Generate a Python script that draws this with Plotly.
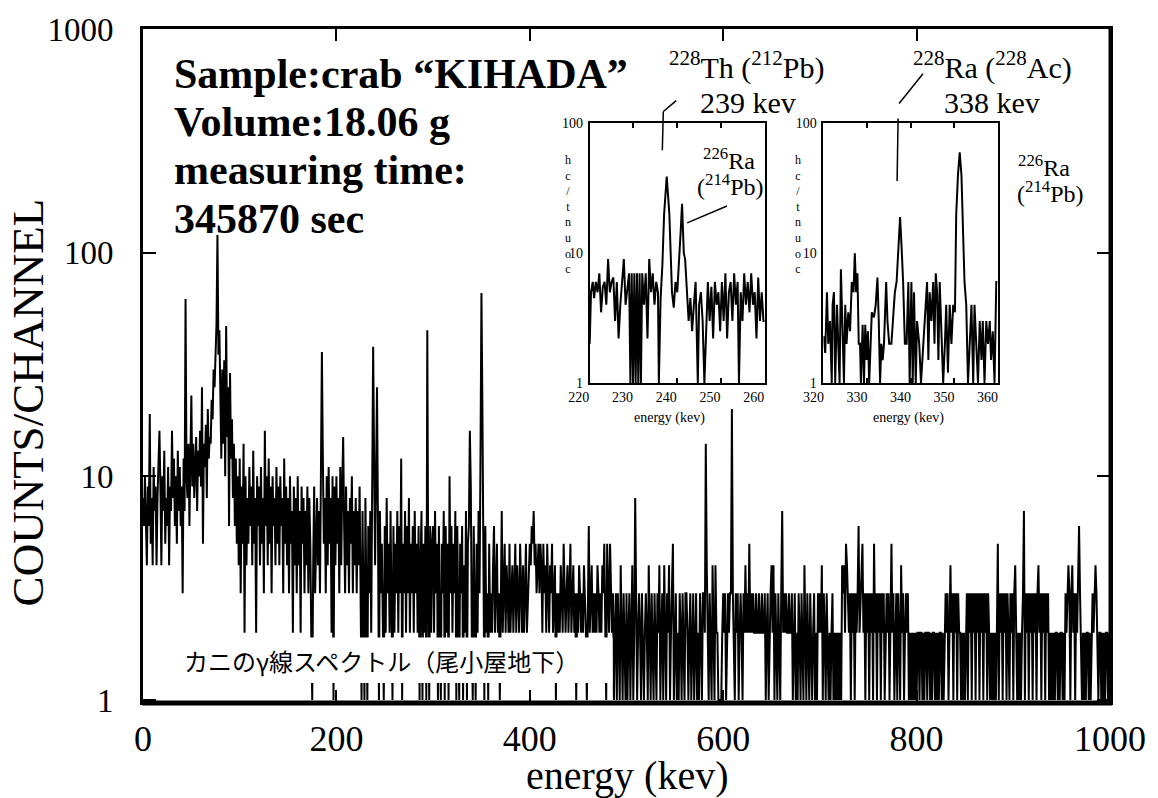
import plotly.graph_objects as go

# ---------------- data ----------------
# main spectrum: counts per 1-keV channel, 0..999 keV
main_counts = [
    8, 6, 10, 7, 4, 9, 6, 19, 5, 8, 4, 11, 7, 9, 4, 8, 12, 16, 9, 4, 10, 7, 13, 5, 8, 6, 11, 4, 9, 7, 16, 8, 12, 6, 10, 5, 13, 7, 11, 6, 9, 3, 12, 7, 62, 10, 8, 14, 6, 11,
    23, 9, 14, 8, 12, 15, 7, 13, 10, 16, 9, 25, 5, 14, 11, 17, 8, 20, 12, 15, 14, 22, 18, 30, 25, 40, 48, 120, 35, 45, 20, 12, 30, 14, 33, 10, 47, 15, 25, 6, 29, 12, 18, 8, 14, 6, 12, 5, 10, 4,
    12, 3, 9, 5, 14, 2, 10, 4, 8, 5, 11, 6, 9, 4, 13, 5, 8, 2, 10, 6, 9, 4, 11, 5, 8, 3, 16, 6, 10, 4, 12, 5, 9, 3, 10, 6, 8, 4, 11, 5, 9, 4, 10, 6, 8, 3, 12, 5, 9, 4,
    8, 3, 10, 5, 7, 2, 9, 4, 8, 3, 10, 4, 7, 2, 9, 5, 8, 3, 7, 4, 9, 3, 8, 5, 2, 1, 4, 9, 3, 6, 8, 4, 7, 3, 9, 36, 12, 5, 8, 3, 10, 4, 11, 5, 8, 2, 10, 1, 9, 4,
    10, 5, 8, 3, 11, 4, 9, 15, 6, 3, 9, 4, 7, 3, 8, 5, 10, 3, 7, 4, 8, 3, 7, 4, 9, 2, 1, 7, 3, 1, 8, 2, 1, 6, 3, 7, 2, 9, 38, 12, 4, 10, 25, 6, 1, 7, 3, 5, 2, 1,
    6, 2, 8, 3, 5, 2, 7, 3, 1, 6, 2, 5, 3, 7, 2, 6, 3, 12, 1, 5, 3, 7, 2, 6, 3, 8, 2, 5, 3, 6, 2, 7, 3, 5, 2, 6, 1, 4, 7, 1, 5, 2, 6, 1, 45, 3, 1, 6, 2, 5,
    6, 2, 7, 3, 5, 1, 6, 2, 1, 5, 3, 7, 1, 6, 2, 5, 1, 10, 3, 6, 2, 5, 3, 7, 1, 6, 2, 1, 5, 3, 6, 1, 4, 2, 7, 1, 5, 6, 16, 9, 2, 1, 6, 3, 1, 5, 2, 7, 3, 12,
    66, 20, 4, 1, 6, 2, 3, 1, 5, 2, 3, 2, 4, 6, 2, 3, 5, 2, 3, 1, 4, 7, 2, 3, 5, 2, 4, 3, 2, 5, 2, 3, 4, 2, 3, 5, 2, 4, 3, 2, 5, 3, 2, 4, 2, 3, 5, 2, 3, 4,
    5, 4, 6, 5, 7, 4, 5, 3, 4, 5, 3, 5, 4, 2, 5, 3, 4, 2, 5, 3, 2, 4, 3, 5, 2, 3, 4, 1, 3, 2, 3, 2, 4, 3, 2, 5, 3, 2, 3, 4, 2, 3, 5, 2, 3, 4, 2, 3, 1, 3,
    2, 4, 3, 2, 3, 2, 4, 3, 2, 1, 3, 6, 2, 3, 4, 2, 3, 2, 3, 2, 4, 3, 2, 3, 2, 4, 3, 5, 2, 1, 5, 3, 2, 5, 3, 2, 3, 1, 2, 3, 1, 3, 2, 1, 4, 2, 1, 3, 2, 1,
    3, 1, 2, 3, 1, 2, 4, 1, 2, 8, 3, 1, 2, 3, 2, 1, 3, 2, 1, 2, 3, 2, 1, 4, 2, 1, 3, 2, 1, 3, 2, 1, 3, 2, 4, 1, 2, 3, 1, 4, 2, 1, 3, 2, 4, 1, 2, 3, 5, 1,
    2, 3, 1, 2, 1, 3, 2, 1, 3, 2, 1, 3, 3, 2, 1, 2, 3, 1, 2, 3, 1, 2, 3, 1, 2, 1, 3, 2, 1, 3, 3, 2, 14, 4, 2, 1, 3, 2, 1, 4, 2, 1, 4, 2, 2, 1, 1, 1, 1, 2,
    3, 2, 3, 1, 2, 3, 2, 3, 3, 20, 3, 2, 1, 3, 2, 3, 1, 2, 3, 2, 1, 3, 2, 4, 2, 3, 2, 5, 2, 3, 2, 3, 2, 2, 3, 2, 2, 3, 2, 2, 3, 2, 2, 3, 1, 2, 3, 1, 2, 3,
    4, 2, 4, 1, 3, 2, 1, 3, 2, 1, 3, 7, 2, 3, 2, 3, 2, 2, 3, 2, 2, 3, 1, 2, 3, 1, 2, 1, 3, 2, 1, 3, 2, 1, 4, 2, 1, 3, 2, 1, 3, 2, 1, 2, 3, 1, 2, 1, 3, 2,
    3, 2, 4, 1, 3, 2, 1, 3, 2, 1, 2, 1, 2, 3, 1, 2, 1, 2, 1, 2, 1, 2, 1, 4, 3, 4, 2, 5, 4, 3, 2, 3, 1, 3, 2, 3, 1, 3, 2, 3, 6, 2, 3, 4, 5, 2, 3, 1, 3, 2,
    3, 1, 3, 2, 3, 1, 5, 2, 3, 1, 3, 2, 3, 1, 3, 2, 3, 1, 2, 3, 2, 3, 1, 3, 5, 2, 3, 1, 2, 3, 1, 3, 2, 1, 4, 2, 3, 1, 2, 3, 2, 3, 1, 2, 1, 2, 1, 2, 1, 2,
    1, 2, 2, 1, 2, 2, 1, 2, 1, 2, 2, 1, 2, 2, 1, 2, 1, 2, 2, 1, 2, 1, 2, 1, 2, 2, 1, 2, 1, 2, 3, 2, 3, 1, 3, 4, 2, 3, 1, 3, 2, 3, 1, 3, 2, 2, 1, 2, 1, 2,
    1, 2, 3, 1, 3, 2, 3, 1, 3, 2, 3, 1, 3, 2, 3, 1, 3, 2, 3, 1, 3, 2, 3, 1, 3, 2, 1, 2, 1, 2, 1, 2, 1, 2, 5, 1, 3, 2, 3, 1, 3, 2, 3, 1, 3, 2, 1, 3, 2, 3,
    1, 3, 4, 2, 1, 2, 1, 2, 1, 2, 3, 7, 1, 3, 2, 3, 1, 3, 2, 3, 1, 3, 2, 3, 1, 3, 4, 2, 3, 1, 3, 2, 3, 1, 3, 2, 3, 1, 2, 1, 2, 1, 2, 1, 2, 2, 1, 2, 1, 2,
    2, 1, 2, 1, 3, 2, 3, 4, 3, 1, 3, 4, 2, 3, 1, 3, 2, 3, 6, 3, 2, 1, 2, 1, 2, 1, 2, 2, 1, 2, 1, 2, 3, 2, 3, 4, 3, 2, 1, 2, 2, 1, 2, 1, 2, 1, 2, 2, 1, 2,
]
main_keV = list(range(len(main_counts)))

# inset 1: 220-260 keV
inset1_keV = [
    220.0, 220.3, 220.7, 221.0, 221.4, 221.8, 222.2, 222.6, 223.0,
    223.4, 223.8, 224.2, 224.6, 225.0, 225.4, 225.8,
    226.2, 226.6, 227.0, 227.4, 227.8, 228.2, 228.6, 229.0,
    229.3, 229.6, 229.9, 230.2, 230.5, 230.8, 231.1, 231.4, 231.7, 232.0,
    232.4, 232.8, 233.2, 233.6, 234.0, 234.4, 234.8, 235.2, 235.6, 235.8,
    236.2, 236.6, 237.0, 237.6, 238.2, 238.8, 239.2, 239.6, 240.0,
    240.4, 240.8, 241.1, 241.5, 241.8, 242.2, 242.6, 243.0, 243.4, 243.8,
    244.2, 244.7, 245.0, 245.4, 245.8, 246.2, 246.6, 247.0, 247.4, 247.8,
    248.2, 248.6, 249.0, 249.4, 249.8, 250.2, 250.6, 251.0, 251.4, 251.8,
    252.2, 252.6, 253.0, 253.4, 253.8, 254.1, 254.5, 254.9, 255.3, 255.7,
    256.1, 256.5, 256.9, 257.3, 257.7, 258.1, 258.5, 258.9, 259.3, 259.7, 260.0,
]
inset1_counts = [
    2, 5, 6, 4.5, 6, 5, 7, 3.5, 5.5,
    6, 4, 9, 5, 6, 6.5, 3,
    6, 2.2, 4, 6.5, 9, 4, 5.5, 7,
    1, 7, 1, 7, 1, 7, 1, 7, 1, 7,
    4, 7, 2.2, 9, 5, 7, 4, 6, 5, 1,
    4.5, 8, 20, 39, 20, 5, 3.8, 6, 5,
    8, 15, 24, 10, 9, 5, 3, 4.5, 2.5, 4,
    6, 1, 4, 5, 3, 1, 3, 6, 3, 5.5,
    2.2, 6, 4, 5, 2.5, 6, 3, 7, 2.2, 5,
    6, 3, 7, 4, 6, 1, 5, 3, 7, 4,
    6, 3.5, 7, 4, 5, 2.2, 6.5, 3, 5, 3, 3,
]

# inset 2: 320-360 keV
inset2_keV = [
    320.0, 320.4, 320.8, 321.1, 321.5, 321.9, 322.1, 322.4, 322.7, 323.1,
    323.4, 323.7, 324.0, 324.4, 324.7, 325.0, 325.3, 325.7, 326.1, 326.5,
    326.9, 327.2, 327.5, 327.8, 328.1, 328.4, 328.6, 329.0, 329.3, 329.6,
    329.9, 330.2, 330.5, 331.1, 331.6, 332.0, 332.4, 332.7, 333.0, 333.3,
    333.6, 333.9, 334.4, 334.7, 335.1, 335.6, 336.0, 336.4, 336.8, 337.3,
    337.6, 337.9, 338.3, 338.7, 339.1, 339.5, 339.8, 340.2, 340.5, 340.8,
    341.2, 341.5, 342.0, 342.4, 342.9, 343.5, 343.8, 344.1, 344.4, 344.8,
    345.2, 345.5, 345.8, 346.1, 346.4, 346.7, 347.1, 347.5, 347.9, 348.2,
    348.6, 349.0, 349.4, 349.8, 350.2, 350.5, 350.9, 351.3, 351.7, 352.1,
    352.4, 352.8, 353.2, 353.6, 354.0, 354.4, 354.7, 355.1, 355.5, 355.9,
    356.3, 356.6, 357.0, 357.4, 357.8, 358.2, 358.5, 358.9, 359.3, 359.7,
    360.0,
]
inset2_counts = [
    2.3, 1.7, 5, 2, 3, 1, 4, 5, 1, 4,
    2, 1, 7.5, 2, 1, 4, 2, 3.5, 2.5, 6,
    5, 10, 5, 7, 2, 2, 1, 2.8, 1, 2.8,
    1.5, 2.5, 1, 3.5, 3.2, 4, 6.5, 3, 1, 2,
    1.5, 2, 6, 3, 2, 2, 3.5, 5, 6, 14,
    19, 12, 6, 2, 2, 6, 1, 6, 1, 5,
    1, 3, 2, 1, 2, 4, 6, 1.5, 5, 3,
    6, 2, 7, 5, 1.5, 6, 2, 1, 2, 4,
    1.2, 4, 2, 4, 3.5, 20, 40, 60, 40, 12,
    6, 4, 1, 2, 4, 1, 4, 2, 1, 3,
    1.5, 3, 1, 3, 2, 3, 1.5, 2.5, 1, 6,
    6,
]

main_xticks = [0, 200, 400, 600, 800, 1000]
main_yticks = [1, 10, 100, 1000]
inset1_xticks = [220, 230, 240, 250, 260]
inset2_xticks = [320, 330, 340, 350, 360]
inset_yticks = [1, 10, 100]

# ---------------- layout helpers (pixel -> paper) ----------------
W, H = 1158, 798
L, R, T, B = 143, 1115, 25, 702
PW, PH = R - L, B - T


def px(x):
    return (x - L) / PW


def py(y):
    return (B - y) / PH


SERIF = "Liberation Serif, Times New Roman, serif"

fig = go.Figure()
fig.add_trace(go.Scatter(x=main_keV, y=main_counts, mode="lines",
                         line=dict(color="black", width=2),
                         xaxis="x", yaxis="y", hoverinfo="skip"))
fig.add_trace(go.Scatter(x=inset1_keV, y=inset1_counts, mode="lines",
                         line=dict(color="black", width=2),
                         xaxis="x2", yaxis="y2", hoverinfo="skip"))
fig.add_trace(go.Scatter(x=inset2_keV, y=inset2_counts, mode="lines",
                         line=dict(color="black", width=2),
                         xaxis="x3", yaxis="y3", hoverinfo="skip"))

axis_common = dict(showgrid=False, zeroline=False, showline=True, linecolor="black",
                   ticks="inside", tickcolor="black")

fig.update_layout(
    width=W, height=H, showlegend=False,
    margin=dict(l=L, r=W - R, t=T, b=H - B),
    paper_bgcolor="white", plot_bgcolor="white",
    font=dict(family=SERIF, color="black"),
    xaxis=dict(**axis_common, range=[0, 1000], tickvals=main_xticks,
               linewidth=3, mirror="ticks", ticklen=12, tickwidth=2,
               tickfont=dict(size=36, family=SERIF), ticklabelstandoff=3),
    yaxis=dict(**axis_common, type="log", range=[-2 / 225, 3.0],
               tickvals=main_yticks, ticktext=[str(v) for v in main_yticks],
               linewidth=3, mirror="ticks", ticklen=13, tickwidth=2,
               tickfont=dict(size=33, family=SERIF), ticklabelstandoff=20),
    xaxis2=dict(**axis_common, domain=[px(592), px(768)], anchor="y2",
                range=[220, 260], tickvals=inset1_xticks, linewidth=2,
                mirror="ticks", ticklen=5, tickwidth=1.5,
                tickfont=dict(size=14, family=SERIF), ticklabelshift=-11,
                ticklabelstandoff=0),
    yaxis2=dict(showgrid=False, zeroline=False, showline=True, linecolor="black",
                linewidth=2, mirror=True, ticks="", domain=[py(381), py(120)],
                anchor="x2", type="log", range=[0, 2], tickvals=inset_yticks,
                ticktext=[str(v) for v in inset_yticks],
                tickfont=dict(size=14, family=SERIF), ticklabelstandoff=2),
    xaxis3=dict(**axis_common, domain=[px(827), px(1002)], anchor="y3",
                range=[320, 360], tickvals=inset2_xticks, linewidth=2,
                mirror="ticks", ticklen=5, tickwidth=1.5,
                tickfont=dict(size=14, family=SERIF), ticklabelshift=-10,
                ticklabelstandoff=0),
    yaxis3=dict(showgrid=False, zeroline=False, showline=True, linecolor="black",
                linewidth=2, mirror=True, ticks="", domain=[py(381), py(120)],
                anchor="x3", type="log", range=[0, 2], tickvals=inset_yticks,
                ticktext=[str(v) for v in inset_yticks],
                tickfont=dict(size=14, family=SERIF), ticklabelstandoff=2),
)


def ann(text, x, y, size, xanchor="center", angle=0, family=SERIF, bold=False):
    if bold:
        text = "<b>" + text + "</b>"
    fig.add_annotation(text=text, x=px(x), y=py(y), xref="paper", yref="paper",
                       xanchor=xanchor, yanchor="middle", showarrow=False,
                       textangle=angle, font=dict(size=size, family=family, color="black"))


# sample information block
ann("Sample:crab “KIHADA”", 172, 70, 42, xanchor="left", bold=True)
ann("Volume:18.06 g", 172, 119, 42, xanchor="left", bold=True)
ann("measuring time:", 172, 167, 42, xanchor="left", bold=True)
ann("345870 sec", 172, 216, 42, xanchor="left", bold=True)

# peak labels
ann("<sup>228</sup>Th (<sup>212</sup>Pb)", 750, 62, 30)
ann("239 kev", 751, 99, 30)
ann("<sup>228</sup>Ra (<sup>228</sup>Ac)", 997, 62, 30)
ann("338 kev", 996, 99, 30)
ann("<sup>226</sup>Ra", 732, 156, 24)
ann("(<sup>214</sup>Pb)", 734, 182, 24)
ann("<sup>226</sup>Ra", 1049, 163, 24)
ann("(<sup>214</sup>Pb)", 1055, 189, 24)

# inset axis texts
stacked = "<br>".join(list("hc/tnuoc"))
ann(stacked, 570, 212, 12)
ann(stacked, 801, 212, 12)
ann("energy (kev)", 672, 416, 14)
ann("energy (kev)", 912, 416, 14)

# main axis titles
ann("energy (kev)", 630, 776, 40)
ann("COUNTS/CHANNEL", 27, 401, 45, angle=-90)

# white label box + Japanese caption
fig.add_shape(type="rect", xref="paper", yref="paper",
              x0=px(146), x1=px(615), y0=py(683), y1=py(637),
              fillcolor="white", line=dict(width=0), layer="above")
ann("カニのγ線スペクトル（尾小屋地下）", 383, 660, 24, family="Noto Sans CJK JP")

# thicker frame parts
fig.add_shape(type="line", xref="paper", yref="paper", x0=px(142), x1=px(1117),
              y0=py(703), y1=py(703), line=dict(color="black", width=5), layer="above")
fig.add_shape(type="line", xref="paper", yref="paper", x0=px(1115.5), x1=px(1115.5),
              y0=py(703), y1=py(24), line=dict(color="black", width=4), layer="above")

# leader lines
leaders = [
    ((679, 97), (666, 108)), ((666, 108), (665, 147)),
    ((730, 203), (690, 220)),
    ((927, 70), (903, 100)), ((902, 115), (901, 178)),
]
for (x0, y0), (x1, y1) in leaders:
    fig.add_shape(type="line", xref="paper", yref="paper",
                  x0=px(x0), y0=py(y0), x1=px(x1), y1=py(y1),
                  line=dict(color="black", width=1.5), layer="above")

fig.write_html("out.html", config={"displayModeBar": False},
               post_script="document.body.style.margin='0px';")
